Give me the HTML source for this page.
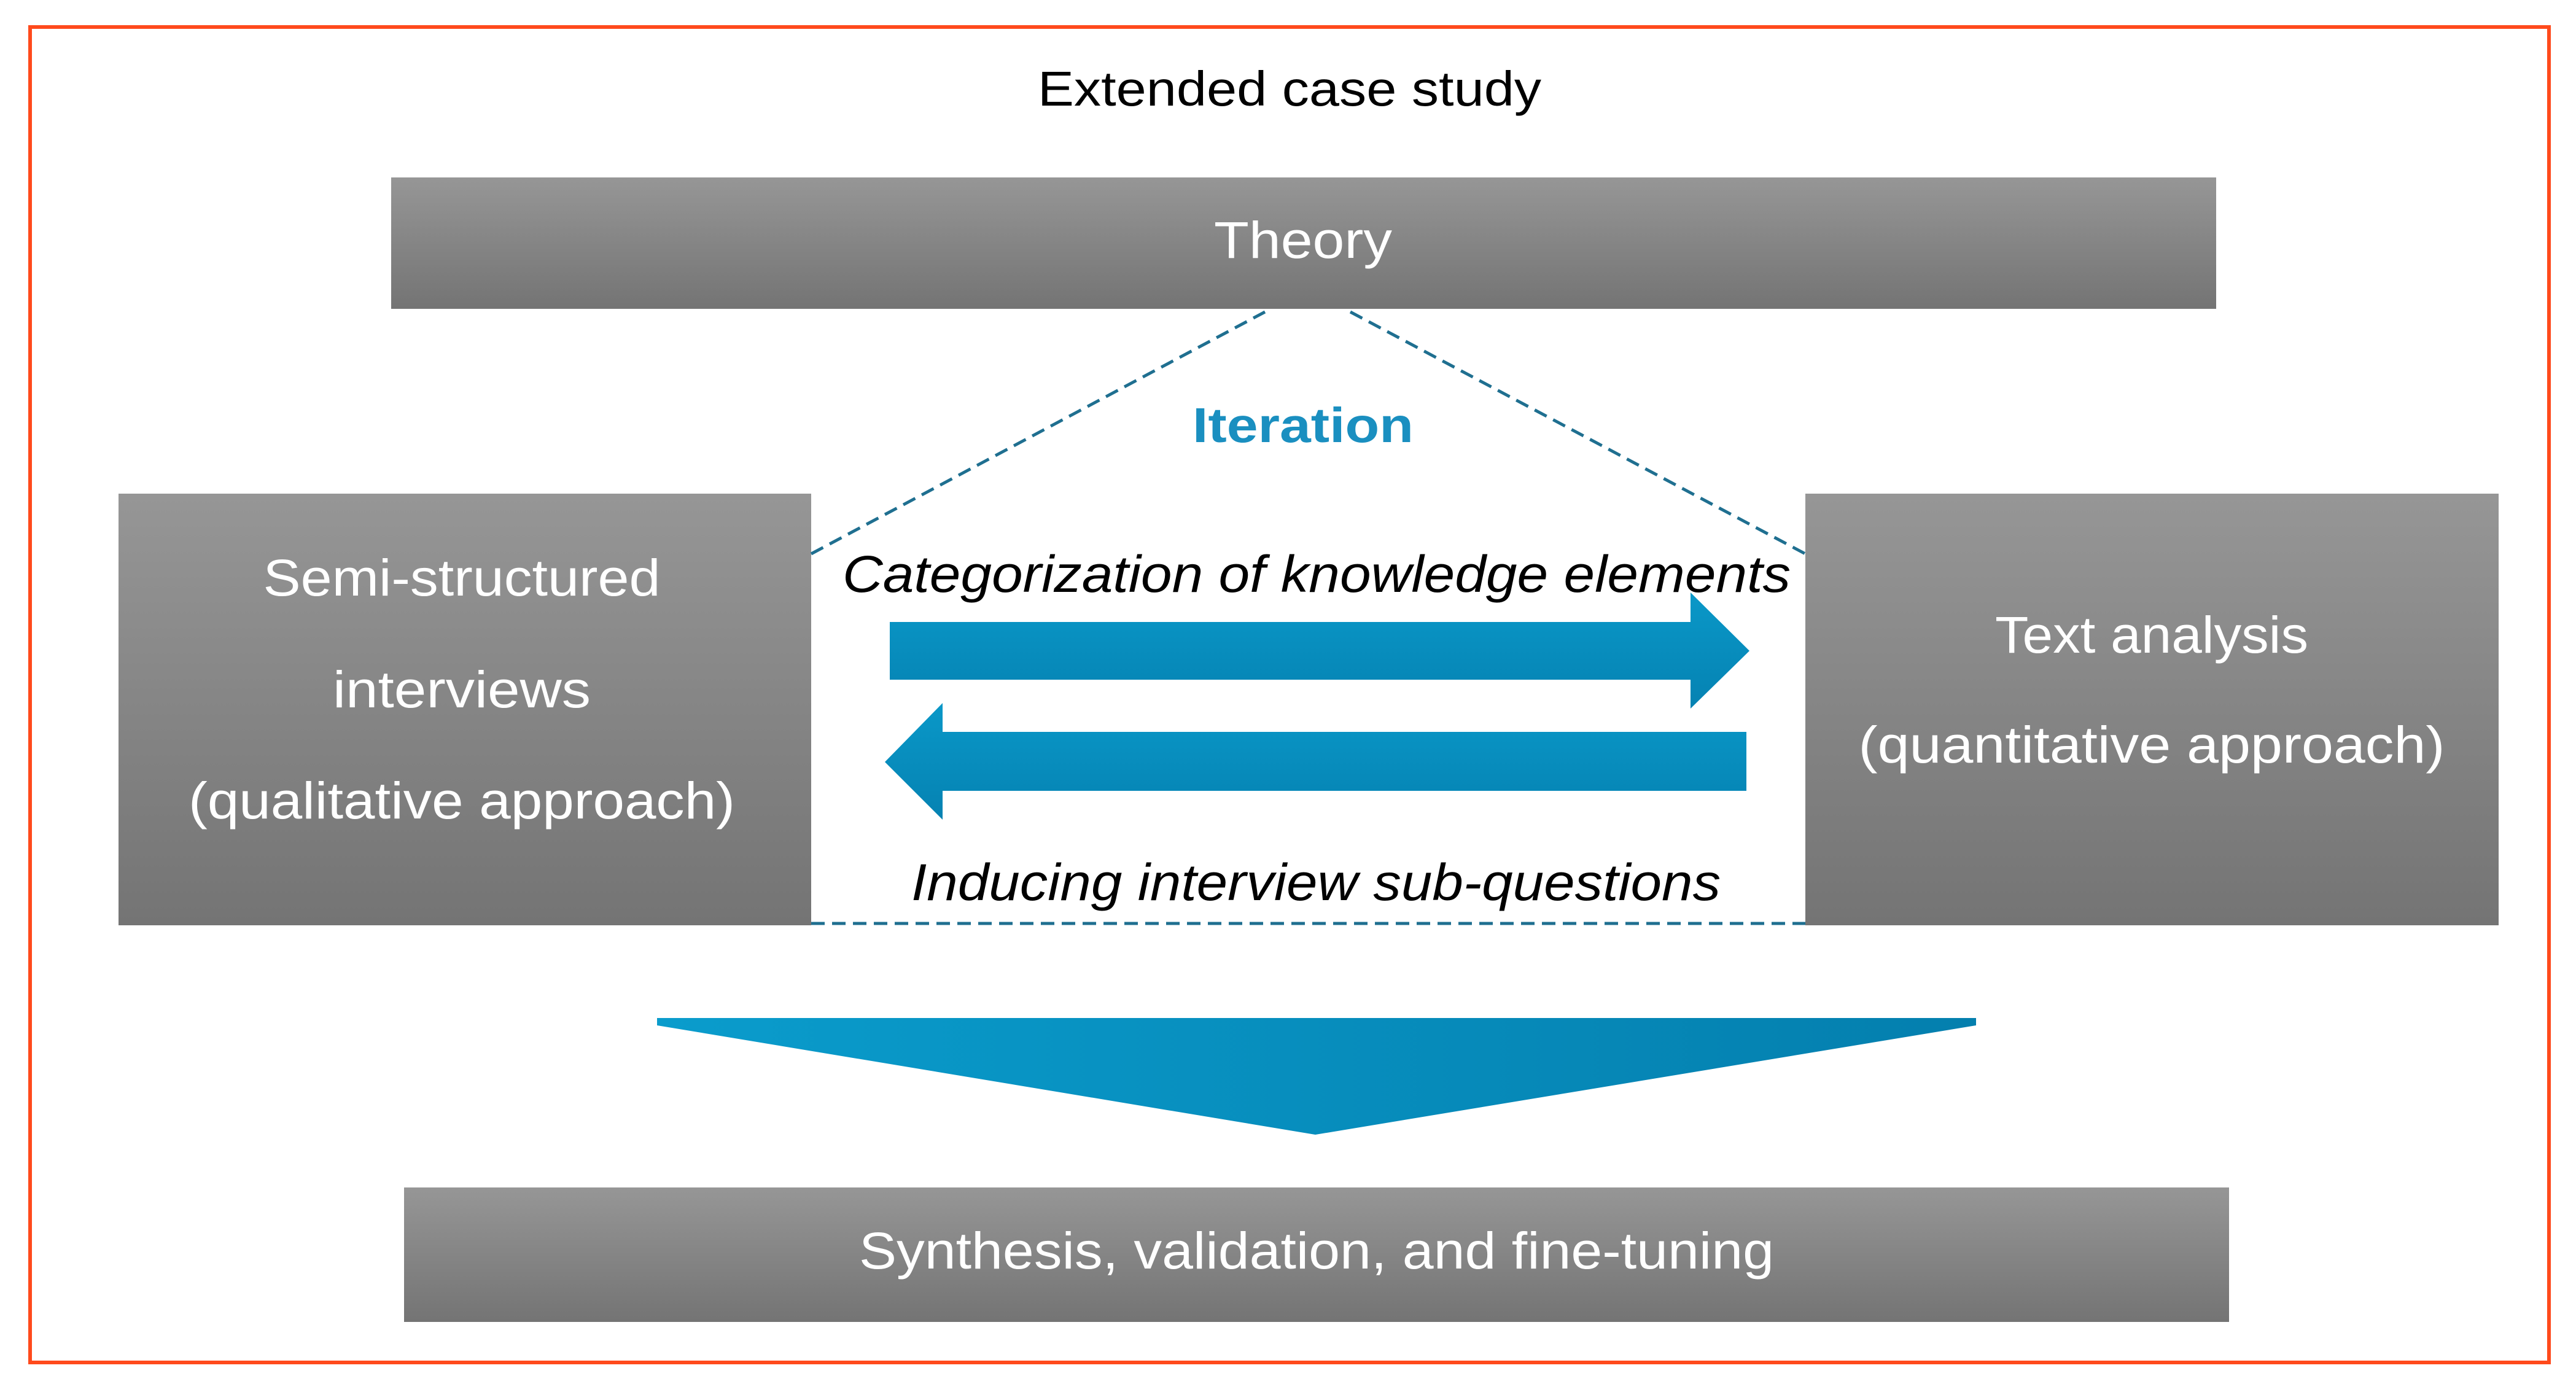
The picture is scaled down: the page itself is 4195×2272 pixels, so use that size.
<!DOCTYPE html>
<html><head><meta charset="utf-8"><style>html,body{margin:0;padding:0;background:#fff}svg{display:block}</style></head>
<body>
<svg width="4195" height="2272" viewBox="0 0 4195 2272" xmlns="http://www.w3.org/2000/svg" font-family="'Liberation Sans', sans-serif">
<defs>
<linearGradient id="g" x1="0" y1="0" x2="0" y2="1"><stop offset="0" stop-color="#969696"/><stop offset="1" stop-color="#747474"/></linearGradient>
<linearGradient id="b" x1="0" y1="0" x2="0" y2="1"><stop offset="0" stop-color="#0a98c8"/><stop offset="1" stop-color="#0582b2"/></linearGradient>
<linearGradient id="bh" x1="0" y1="0" x2="1" y2="0"><stop offset="0" stop-color="#0a9ccc"/><stop offset="1" stop-color="#047fae"/></linearGradient>
</defs>
<rect x="0" y="0" width="4195" height="2272" fill="#fff"/>
<rect x="49" y="44" width="4102" height="2175" fill="none" stroke="#ff4a1c" stroke-width="6"/>
<text x="2100" y="172" font-size="80" text-anchor="middle" fill="#000" textLength="820" lengthAdjust="spacingAndGlyphs">Extended case study</text>
<rect x="637" y="289" width="2972" height="214" fill="url(#g)"/>
<text x="2122" y="420" font-size="84" text-anchor="middle" fill="#fff" textLength="290" lengthAdjust="spacingAndGlyphs">Theory</text>
<rect x="193" y="804" width="1128" height="703" fill="url(#g)"/>
<text x="752" y="970" font-size="84" text-anchor="middle" fill="#fff" textLength="647" lengthAdjust="spacingAndGlyphs">Semi-structured</text>
<text x="752" y="1152" font-size="84" text-anchor="middle" fill="#fff" textLength="420" lengthAdjust="spacingAndGlyphs">interviews</text>
<text x="752" y="1333" font-size="84" text-anchor="middle" fill="#fff" textLength="890" lengthAdjust="spacingAndGlyphs">(qualitative approach)</text>
<rect x="2940" y="804" width="1129" height="703" fill="url(#g)"/>
<text x="3504" y="1063" font-size="84" text-anchor="middle" fill="#fff" textLength="510" lengthAdjust="spacingAndGlyphs">Text analysis</text>
<text x="3504" y="1242" font-size="84" text-anchor="middle" fill="#fff" textLength="955" lengthAdjust="spacingAndGlyphs">(quantitative approach)</text>
<g stroke="#1f6f90" stroke-width="5" stroke-dasharray="22,12" fill="none">
<line x1="1321" y1="902" x2="2060" y2="508"/>
<line x1="2199" y1="508" x2="2940" y2="902"/>
<line x1="1321" y1="1504" x2="2940" y2="1504"/>
</g>
<text x="2122" y="720" font-size="80" font-weight="bold" text-anchor="middle" fill="#1a8fc0" textLength="360" lengthAdjust="spacingAndGlyphs">Iteration</text>
<text x="2144" y="964" font-size="84" font-style="italic" text-anchor="middle" fill="#000" textLength="1544" lengthAdjust="spacingAndGlyphs">Categorization of knowledge elements</text>
<polygon points="1449,1013 2753,1013 2753,965 2849,1060 2753,1154 2753,1107 1449,1107" fill="url(#b)"/>
<polygon points="2844,1192 1535,1192 1535,1145 1441,1241 1535,1335 1535,1288 2844,1288" fill="url(#b)"/>
<text x="2143" y="1466" font-size="84" font-style="italic" text-anchor="middle" fill="#000" textLength="1318" lengthAdjust="spacingAndGlyphs">Inducing interview sub-questions</text>
<polygon points="1070,1658 3218,1658 3218,1670 2142,1848 1070,1670" fill="url(#bh)"/>
<rect x="658" y="1934" width="2972" height="219" fill="url(#g)"/>
<text x="2144" y="2066" font-size="84" text-anchor="middle" fill="#fff" textLength="1490" lengthAdjust="spacingAndGlyphs">Synthesis, validation, and fine-tuning</text>
</svg>
</body></html>
